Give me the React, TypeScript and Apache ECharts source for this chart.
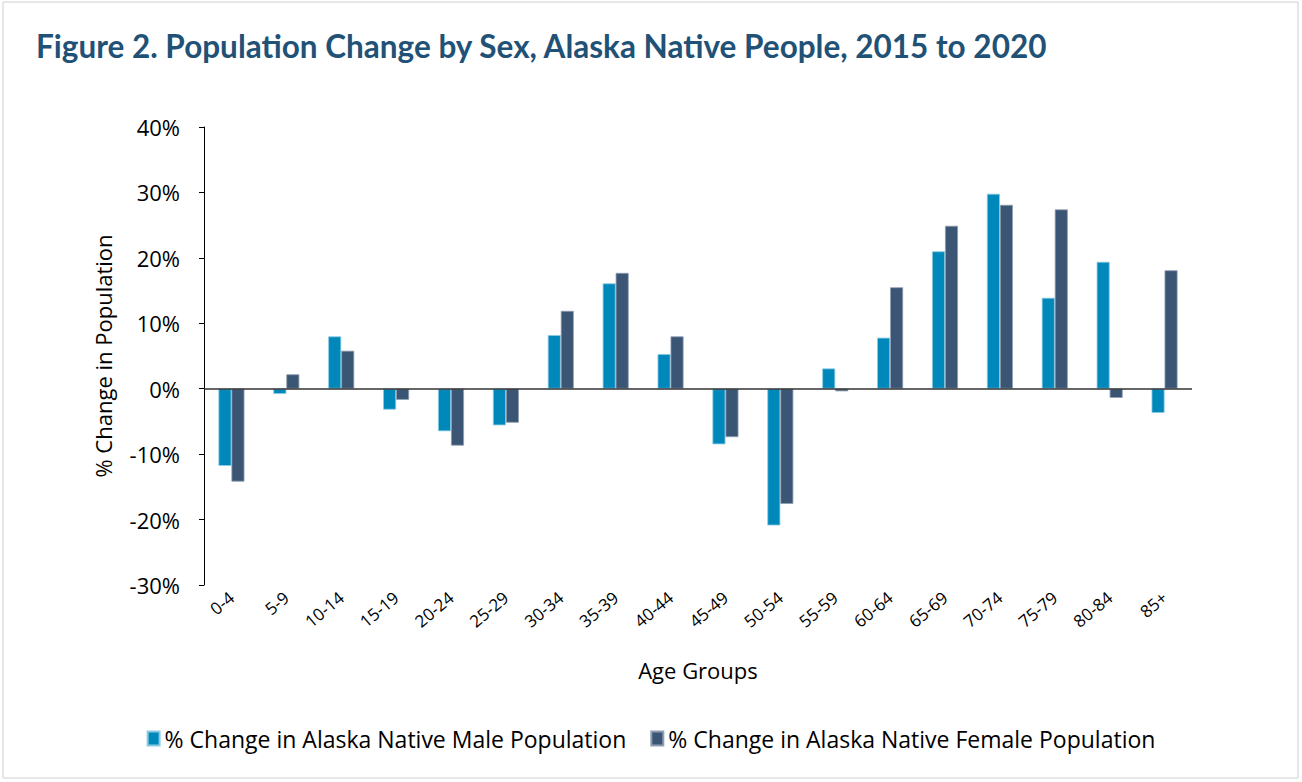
import React, { useEffect, useRef } from "react";
import * as echarts from "echarts";

const categories = ["0-4","5-9","10-14","15-19","20-24","25-29","30-34","35-39","40-44","45-49","50-54","55-59","60-64","65-69","70-74","75-79","80-84","85+"];
const maleValues = [-11.8,-0.8,8.0,-3.2,-6.5,-5.6,8.2,16.1,5.3,-8.5,-20.9,3.1,7.8,21.0,29.8,13.9,19.4,-3.7];
const femaleValues = [-14.2,2.2,5.8,-1.7,-8.7,-5.2,11.9,17.7,8.0,-7.4,-17.6,-0.4,15.5,24.9,28.1,27.4,-1.4,18.1];
const seriesNames = ["% Change in Alaska Native Male Population","% Change in Alaska Native Female Population"];
const titleText = "Figure 2. Population Change by Sex, Alaska Native People, 2015 to 2020";

const FONT = "Open Sans";
const TITLE_FONT = "Lato";

export default function App() {
  const ref = useRef<HTMLDivElement>(null);
  useEffect(() => {
    document.body.style.margin = "0";
    const chart = echarts.init(ref.current!, null, { renderer: "svg" });
    chart.setOption({
      animation: false,
      backgroundColor: "#ffffff",
      textStyle: { fontFamily: FONT },
      graphic: [
        {
          type: "rect",
          shape: { x: 3, y: 2, width: 1295, height: 776 },
          style: { fill: "none", stroke: "#cfcfcf", lineWidth: 1 },
          silent: true,
        },
      ],
      title: {
        text: titleText,
        left: 31,
        top: 25,
        textStyle: { fontFamily: TITLE_FONT, fontWeight: "bold", fontSize: 31.5, color: "#1f5276" },
      },
      legend: {
        bottom: 27,
        left: "center",
        itemWidth: 12,
        itemHeight: 14,
        itemGap: 24,
        icon: "rect",
        textStyle: { fontFamily: FONT, fontSize: 23, color: "#000" },
        data: seriesNames,
      },
      grid: { left: 204, right: 110, top: 127, bottom: 197 },
      xAxis: {
        type: "category",
        data: categories,
        name: "Age Groups",
        nameLocation: "middle",
        nameGap: 74,
        nameTextStyle: { fontFamily: FONT, fontSize: 22, color: "#000" },
        axisLine: { show: false, onZero: false },
        axisTick: { show: false },
        axisLabel: { rotate: 40, margin: 10, fontSize: 17, color: "#000", fontFamily: FONT, interval: 0 },
      },
      yAxis: {
        type: "value",
        min: -30,
        max: 40,
        interval: 10,
        name: "% Change in Population",
        nameLocation: "middle",
        nameGap: 90,
        nameTextStyle: { fontFamily: FONT, fontSize: 22, color: "#000" },
        axisLine: { show: true, lineStyle: { color: "#000", width: 1 } },
        axisTick: { show: true, length: 5, lineStyle: { color: "#000" } },
        splitLine: { show: false },
        axisLabel: { formatter: "{value}%", fontSize: 22, color: "#000", fontFamily: FONT, margin: 24 },
      },
      series: [
        {
          name: seriesNames[0],
          type: "bar",
          data: maleValues,
          barWidth: 13,
          barGap: "0%",
          itemStyle: { color: "#0088bb", borderColor: "#8ccbe3", borderWidth: 0.8 },
          markLine: {
            silent: true,
            symbol: "none",
            label: { show: false },
            lineStyle: { color: "#333", width: 1.5, type: "solid" },
            data: [{ yAxis: 0 }],
          },
        },
        {
          name: seriesNames[1],
          type: "bar",
          data: femaleValues,
          barWidth: 13,
          barGap: "0%",
          itemStyle: { color: "#3b5575", borderColor: "#8f9db0", borderWidth: 0.8 },
        },
      ],
    });
    return () => chart.dispose();
  }, []);
  return <div ref={ref} style={{ width: 1302, height: 782 }} />;
}
